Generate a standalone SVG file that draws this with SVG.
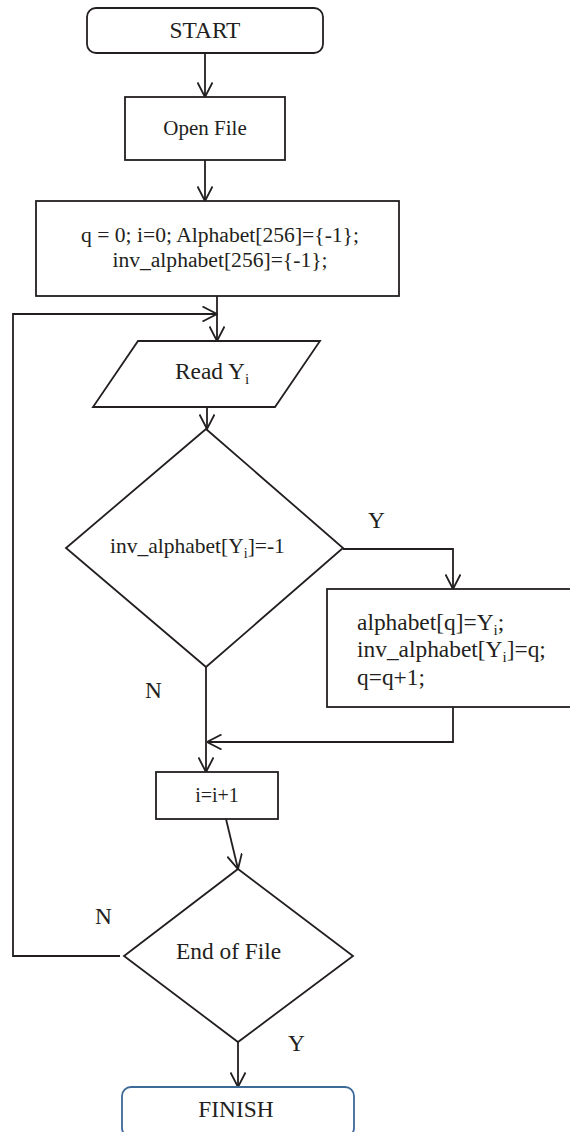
<svg xmlns="http://www.w3.org/2000/svg" width="570" height="1132" viewBox="0 0 570 1132">
<style>
.s{fill:#fff;stroke:#231f20;stroke-width:1.8}
.c{fill:none;stroke:#231f20;stroke-width:1.8}
.t{font-family:"Liberation Serif","Times New Roman",serif;fill:#231f20;font-size:23.4px}
.m{text-anchor:middle}
</style>
<defs>
<marker id="a" viewBox="0 0 16 16" refX="15.5" refY="8" markerWidth="16" markerHeight="16" markerUnits="userSpaceOnUse" orient="auto">
<path d="M1,0.5 L15.5,8 L1,15.5" fill="none" stroke="#231f20" stroke-width="1.8"/>
</marker>
</defs>
<g id="connectors">
<line class="c" x1="205" y1="53" x2="205" y2="97" marker-end="url(#a)"/>
<line class="c" x1="205" y1="160" x2="205" y2="201" marker-end="url(#a)"/>
<line class="c" x1="217" y1="296" x2="217" y2="341" marker-end="url(#a)"/>
<line class="c" x1="207" y1="407" x2="207" y2="429" marker-end="url(#a)"/>
<polyline class="c" points="343,549 453,549 453,589" marker-end="url(#a)"/>
<line class="c" x1="206" y1="667" x2="206" y2="772" marker-end="url(#a)"/>
<polyline class="c" points="453,707 453,742 207,742" marker-end="url(#a)"/>
<line class="c" x1="226" y1="819" x2="238" y2="869" marker-end="url(#a)"/>
<polyline class="c" points="120,956 13,956 13,314 217,314" marker-end="url(#a)"/>
<line class="c" x1="238" y1="1042" x2="238" y2="1087" marker-end="url(#a)"/>
</g>
<g id="start">
<rect class="s" x="87" y="8" width="236" height="45" rx="9"/>
<text class="t m" x="205" y="38">START</text>
</g>
<g id="open">
<rect class="s" x="125" y="97" width="160" height="63"/>
<text class="t m" x="205" y="135" style="font-size:21px">Open File</text>
</g>
<g id="init">
<rect class="s" x="36" y="201" width="363" height="95"/>
<text class="t m" x="220" y="242" style="font-size:21.6px">q = 0; i=0; Alphabet[256]={-1};</text>
<text class="t m" x="220" y="267" style="font-size:21.6px">inv_alphabet[256]={-1};</text>
</g>
<g id="read">
<polygon class="s" points="138,341 320,341 275,407 93,407"/>
<text class="t" x="175" y="379">Read Y<tspan dy="5" style="font-size:15px">i</tspan></text>
</g>
<g id="check">
<polygon class="s" points="206,429 343,548 206,667 66,548"/>
<text class="t" x="110" y="553" style="font-size:21.5px">inv_alphabet[Y<tspan dy="5" style="font-size:14px">i</tspan><tspan dy="-5">]=-1</tspan></text>
</g>
<g id="assign">
<rect class="s" x="327" y="589" width="250" height="118"/>
<text class="t" x="357" y="630">alphabet[q]=Y<tspan dy="5" style="font-size:15px">i</tspan><tspan dy="-5">;</tspan></text>
<text class="t" x="357" y="657">inv_alphabet[Y<tspan dy="5" style="font-size:15px">i</tspan><tspan dy="-5">]=q;</tspan></text>
<text class="t" x="357" y="685">q=q+1;</text>
</g>
<g id="inc">
<rect class="s" x="156" y="772" width="122" height="47"/>
<text class="t m" x="217" y="802" style="font-size:20px">i=i+1</text>
</g>
<g id="eof">
<polygon class="s" points="238,869 353,956 238,1042 124,956"/>
<text class="t" x="176" y="959">End of File</text>
</g>
<g id="finish">
<rect x="122" y="1087" width="232" height="50" rx="9" fill="#fff" stroke="#3b6a98" stroke-width="1.8"/>
<text class="t m" x="236" y="1117">FINISH</text>
</g>
<g id="labels">
<text class="t" x="368" y="528">Y</text>
<text class="t" x="145" y="698">N</text>
<text class="t" x="95" y="924">N</text>
<text class="t" x="288" y="1051">Y</text>
</g>
</svg>
